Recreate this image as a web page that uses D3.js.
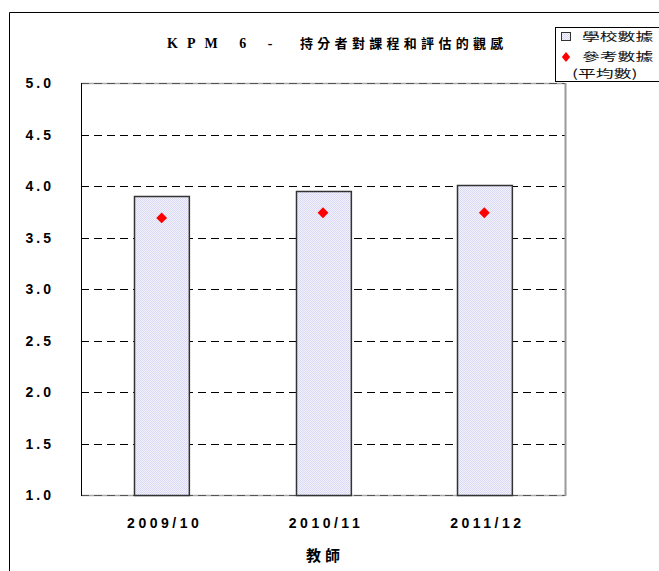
<!DOCTYPE html>
<html>
<head>
<meta charset="utf-8">
<script src="https://cdn.jsdelivr.net/npm/d3@7"></script>
<style>
  body { margin: 0; background: #fff; }
  svg { display: block; }
</style>
</head>
<body>
<svg id="chart" width="659" height="571"></svg>
<script>
// chart data
var years = ["2009/10", "2010/11", "2011/12"];
var schoolValues = [3.90, 3.95, 4.01];
var referenceValues = [3.69, 3.74, 3.74];
var yTicks = [1.0, 1.5, 2.0, 2.5, 3.0, 3.5, 4.0, 4.5, 5.0];
var titleLatin = "KPM 6 -";
var titleChinese = "持分者對課程和評估的觀感";
var xTitle = "教師";
var legendLabels = ["學校數據", "參考數據", "(平均數)"];

var svg = d3.select("#chart");

// plot area (note: "top" is reserved on window, so use other names)
var plotLeft = 81, plotRight = 565, plotTop = 83, plotBottom = 495;

var xScale = d3.scaleBand()
  .domain(years)
  .range([plotLeft, plotRight])
  .paddingInner(0.66)
  .paddingOuter(0.33);

var yScale = d3.scaleLinear()
  .domain([1, 5])
  .range([plotBottom, plotTop]);

// outer frame (runs past the right edge)
svg.append("path")
  .attr("d", "M9.5,571 L9.5,12.5 L670,12.5")
  .attr("fill", "none")
  .attr("stroke", "#000")
  .attr("stroke-width", 1);

// dotted fill for the bars
var defs = svg.append("defs");
var pat = defs.append("pattern")
  .attr("id", "dots")
  .attr("width", 2).attr("height", 2)
  .attr("patternUnits", "userSpaceOnUse");
pat.append("rect").attr("width", 2).attr("height", 2).attr("fill", "#f2f2fc");
pat.append("rect").attr("width", 1).attr("height", 1).attr("fill", "#d8d8f2");
pat.append("rect").attr("x", 1).attr("y", 1).attr("width", 1).attr("height", 1).attr("fill", "#dcdcf4");

// gridlines
svg.append("g")
  .selectAll("line")
  .data(yTicks.filter(function (d) { return d > 1 && d < 5; }))
  .enter().append("line")
  .attr("x1", plotLeft).attr("x2", plotRight)
  .attr("y1", function (d) { return Math.round(yScale(d)) + 0.5; })
  .attr("y2", function (d) { return Math.round(yScale(d)) + 0.5; })
  .attr("stroke", "#000")
  .attr("stroke-dasharray", "8,5");

// top and bottom border, gray with dashes over it
[5, 1].forEach(function (v) {
  var yy = Math.round(yScale(v)) + 0.5;
  svg.append("line")
    .attr("x1", plotLeft).attr("x2", plotRight)
    .attr("y1", yy).attr("y2", yy)
    .attr("stroke", "#aaa")
    .attr("stroke-width", 1.5);
  svg.append("line")
    .attr("x1", plotLeft).attr("x2", plotRight)
    .attr("y1", yy).attr("y2", yy)
    .attr("stroke", "#555")
    .attr("stroke-dasharray", "8,5");
});

// right border, gray
svg.append("line")
  .attr("x1", plotRight + 0.5).attr("x2", plotRight + 0.5)
  .attr("y1", plotTop).attr("y2", plotBottom + 1)
  .attr("stroke", "#9a9a9a")
  .attr("stroke-width", 2);

// left axis line
svg.append("line")
  .attr("x1", plotLeft + 0.5).attr("x2", plotLeft + 0.5)
  .attr("y1", plotTop).attr("y2", plotBottom + 1)
  .attr("stroke", "#000");

// bars
svg.append("g")
  .selectAll("rect")
  .data(schoolValues)
  .enter().append("rect")
  .attr("x", function (d, i) { return Math.round(xScale(years[i])) + 0.5; })
  .attr("y", function (d) { return Math.round(yScale(d)) + 0.5; })
  .attr("width", xScale.bandwidth())
  .attr("height", function (d) { return yScale(1) - Math.round(yScale(d)); })
  .attr("fill", "url(#dots)")
  .attr("stroke", "#333")
  .attr("stroke-width", 1.5);

// reference diamonds
var diamond = d3.symbol().type(d3.symbolDiamond).size(60);
svg.append("g")
  .selectAll("path")
  .data(referenceValues)
  .enter().append("path")
  .attr("d", diamond)
  .attr("transform", function (d, i) {
    return "translate(" + (xScale(years[i]) + xScale.bandwidth() / 2) + "," + yScale(d) + ") scale(1.3,0.75)";
  })
  .attr("fill", "#ff0000");

// y tick labels
svg.append("g")
  .selectAll("text")
  .data(yTicks)
  .enter().append("text")
  .attr("x", 54)
  .attr("y", function (d) { return yScale(d) + 5; })
  .attr("text-anchor", "end")
  .attr("font-family", "Liberation Sans, Arial, sans-serif")
  .attr("font-weight", "bold")
  .attr("font-size", 14)
  .attr("letter-spacing", 3)
  .text(function (d) { return d.toFixed(1); });

// x tick labels
svg.append("g")
  .selectAll("text")
  .data(years)
  .enter().append("text")
  .attr("x", function (d) { return xScale(d) + xScale.bandwidth() / 2 + 3; })
  .attr("y", 528)
  .attr("text-anchor", "middle")
  .attr("font-family", "Liberation Sans, Arial, sans-serif")
  .attr("font-weight", "bold")
  .attr("font-size", 14)
  .attr("letter-spacing", 3.5)
  .text(function (d) { return d; });

// x axis title
svg.append("text")
  .attr("x", 325)
  .attr("y", 561)
  .attr("text-anchor", "middle")
  .attr("font-family", "Noto Sans CJK TC, sans-serif")
  .attr("font-weight", "bold")
  .attr("font-size", 15)
  .attr("letter-spacing", 4)
  .text(xTitle);

// chart title
var title = svg.append("text")
  .attr("x", 167)
  .attr("y", 48)
  .attr("font-weight", "bold")
  .attr("font-size", 13);
title.append("tspan")
  .attr("font-family", "Liberation Serif, serif")
  .attr("font-size", 14)
  .attr("letter-spacing", 9)
  .attr("xml:space", "preserve")
  .text(titleLatin);
title.append("tspan")
  .attr("x", 300)
  .attr("font-family", "Noto Sans CJK TC, sans-serif")
  .attr("letter-spacing", 4.3)
  .text(titleChinese);

// legend
var legend = svg.append("g");
legend.append("rect")
  .attr("x", 555.5).attr("y", 27.5)
  .attr("width", 120).attr("height", 54)
  .attr("fill", "#fff")
  .attr("stroke", "#000");
legend.append("rect")
  .attr("x", 561.5).attr("y", 32.5)
  .attr("width", 9).attr("height", 8)
  .attr("fill", "url(#dots)")
  .attr("stroke", "#333");
legend.append("path")
  .attr("d", diamond)
  .attr("transform", "translate(566,57) scale(1,0.7)")
  .attr("fill", "#ff0000");
var legendPos = [[582, 41], [582, 61], [572, 78]];
legend.selectAll("text.lab")
  .data(legendLabels)
  .enter().append("text")
  .attr("class", "lab")
  .attr("transform", function (d, i) {
    return "translate(" + legendPos[i][0] + "," + legendPos[i][1] + ") scale(1.55,1)";
  })
  .attr("font-family", "Noto Sans CJK TC, sans-serif")
  .attr("font-size", 11.5)
  .attr("fill", "#111")
  .text(function (d) { return d; });
</script>
</body>
</html>
